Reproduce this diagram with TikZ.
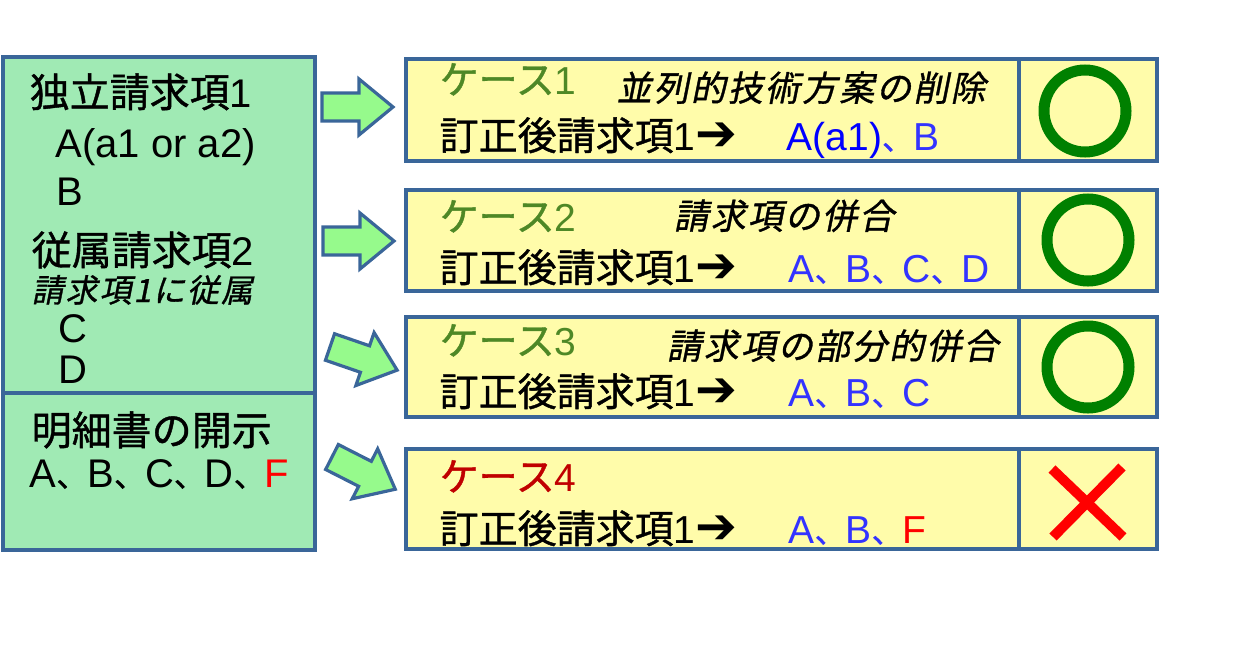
\documentclass[tikz,border=0pt]{standalone}
\usepackage{fontspec}
\setmainfont{Liberation Sans}
\newfontfamily\jp{Noto Sans CJK JP}[FakeBold=1]
\newfontfamily\jpit{Noto Sans CJK JP}[FakeSlant=0.2,FakeBold=1,LetterSpace=6]
\newfontfamily\symf{DejaVu Sans}
\usetikzlibrary{positioning}
\definecolor{boxline}{RGB}{58,102,153}
\definecolor{claimfill}{RGB}{160,234,180}
\definecolor{casefill}{RGB}{255,252,170}
\definecolor{arrfill}{RGB}{150,250,140}
\definecolor{casegreen}{RGB}{78,136,38}
\definecolor{casered}{RGB}{192,0,0}
\definecolor{listblue}{RGB}{51,51,255}
\definecolor{pureblue}{RGB}{0,0,255}
\definecolor{redF}{RGB}{255,0,0}
\definecolor{okgreen}{RGB}{0,128,0}
\newcommand{\jcomma}{{\jp\fontsize{31pt}{36pt}\selectfont 、}}
\newcommand{\resarrow}{{\symf\fontsize{50pt}{50pt}\selectfont ➔}}
\tikzset{
  every picture/.style={line width=3.4pt},
  leftbox/.style={draw=boxline, fill=claimfill},
  casebox/.style={draw=boxline, fill=casefill},
  arrshape/.style={draw=boxline, fill=arrfill, line width=3.2pt, line join=miter},
  txt/.style={anchor=base west, inner sep=0pt, font=\fontsize{40pt}{48pt}\selectfont},
  subtxt/.style={anchor=base west, inner sep=0pt, font=\fontsize{32pt}{38pt}\selectfont\jpit},
  casetxt/.style={anchor=base west, inner sep=0pt, font=\fontsize{39pt}{46pt}\selectfont},
  notetxt/.style={anchor=base west, inner sep=0pt, font=\fontsize{35pt}{42pt}\selectfont\jpit},
  okmark/.style={draw=okgreen, line width=11pt},
  ngmark/.style={draw=redF, line width=10pt},
  blockarr/.pic={
    \draw[arrshape] (0,-14) -- (37,-14) -- (37,-28) -- (71,0)
      -- (37,28) -- (37,14) -- (0,14) -- cycle;
  },
}
\begin{document}
\begin{tikzpicture}[x=1pt,y=-1pt]
  \useasboundingbox (0,0) rectangle (1255,670);
  % claims before correction
  \draw[leftbox] (3,57) rectangle (315,393);
  \draw[leftbox] (3,393) rectangle (315,550);
  \node[txt] (indep) at (28,107) {{\jp 独立請求項}1};
  \node[txt] (elemA) at (54,157) {A(a1 or a2)};
  \node[txt] (elemB) at (55,205) {B};
  \node[txt] (dep) at (30,265) {{\jp 従属請求項}2};
  \node[subtxt] (depnote) at (30,302) {請求項1に従属};
  \node[txt] (elemC) at (57,342) {C};
  \node[txt] (elemD) at (57,383) {D};
  \node[txt] (spec) at (30,445) {{\jp 明細書の開示}};
  \node[txt] (speclist) at (28,487) {A\jcomma B\jcomma C\jcomma D\jcomma\textcolor{redF}{F}};

  % block arrows
  \pic at (322,107) {blockarr};
  \pic at (323,241) {blockarr};
  \pic[rotate=-19] at (330,347) {blockarr};
  \pic[rotate=-27] at (332,457) {blockarr};

  % case boxes
  \foreach \yt/\yb in {59/161,190/291,317/417,449/549}{
    \draw[casebox] (406,\yt) rectangle (1157,\yb);
    \draw[boxline] (1019,\yt) -- (1019,\yb);
  }

  \node[casetxt, text=casegreen] (case1) at (438,94) {{\jp ケース}1};
  \node[notetxt] (note1) at (615,101) {並列的技術方案の削除};
  \node[casetxt] (res1) at (438,150) {{\jp 訂正後請求項}1\resarrow};
  \node[casetxt] (list1) at (785,150) {\textcolor{pureblue}{A(a1)}\textcolor{listblue}{\jcomma B}};

  \node[casetxt, text=casegreen] (case2) at (438,231) {{\jp ケース}2};
  \node[notetxt] (note2) at (672,229) {請求項の併合};
  \node[casetxt] (res2) at (438,282) {{\jp 訂正後請求項}1\resarrow};
  \node[casetxt, text=listblue] (list2) at (787,282) {A\jcomma B\jcomma C\jcomma D};

  \node[casetxt, text=casegreen] (case3) at (438,355) {{\jp ケース}3};
  \node[notetxt] (note3) at (665,359) {請求項の部分的併合};
  \node[casetxt] (res3) at (438,406) {{\jp 訂正後請求項}1\resarrow};
  \node[casetxt, text=listblue] (list3) at (787,406) {A\jcomma B\jcomma C};

  \node[casetxt, text=casered] (case4) at (438,491) {{\jp ケース}4};
  \node[casetxt] (res4) at (438,543) {{\jp 訂正後請求項}1\resarrow};
  \node[casetxt] (list4) at (787,543) {\textcolor{listblue}{A\jcomma B\jcomma}\textcolor{redF}{F}};

  % judgements
  \draw[okmark] (1085,111) circle[radius=41pt];
  \draw[okmark] (1088,240) circle[radius=41pt];
  \draw[okmark] (1088,367) circle[radius=41pt];
  \draw[ngmark] (1052,469) -- (1123,537) (1122,467) -- (1053,537);
\end{tikzpicture}
\end{document}
